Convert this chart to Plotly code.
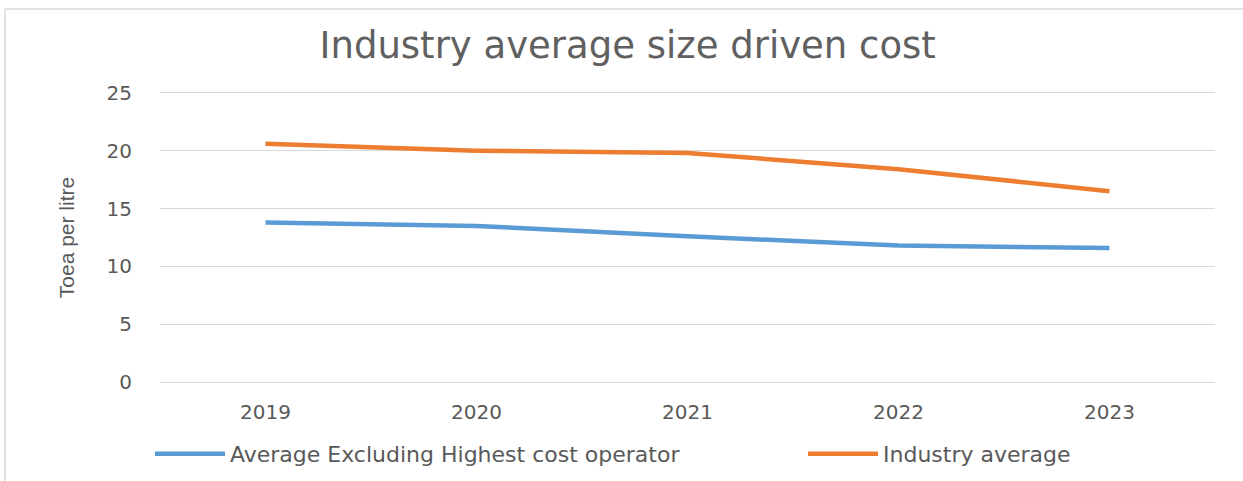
import plotly.graph_objects as go

years = ["2019", "2020", "2021", "2022", "2023"]
avg_excl_highest = [13.8, 13.5, 12.6, 11.8, 11.6]
industry_avg = [20.6, 20.0, 19.8, 18.4, 16.5]
y_ticks = [0, 5, 10, 15, 20, 25]

grey = "#595959"
L, R, T, B = 160, 28, 91, 97
W, H = 1243, 481
PW, PH = W - L - R, H - T - B


def px_x(p):
    return (p - L) / PW


def px_y(p):
    return (H - B - p) / PH


fig = go.Figure()
fig.add_trace(go.Scatter(
    x=years, y=avg_excl_highest, mode="lines",
    name="Average Excluding Highest cost operator",
    line=dict(color="#5B9BD5", width=4.5),
    legend="legend",
))
fig.add_trace(go.Scatter(
    x=years, y=industry_avg, mode="lines",
    name="Industry average",
    line=dict(color="#ED7D31", width=4.5),
    legend="legend2",
))

legend_common = dict(orientation="h", xanchor="left", yanchor="middle", itemwidth=70,
                     bgcolor="rgba(0,0,0,0)",
                     font=dict(family="DejaVu Sans", size=22, color=grey))

fig.update_layout(
    width=W, height=H,
    showlegend=True,
    paper_bgcolor="white", plot_bgcolor="white",
    margin=dict(l=L, r=R, t=T, b=B, autoexpand=False),
    title=dict(text="Industry average size driven cost", x=0.505, xanchor="center",
               y=1 - 45 / H, yanchor="middle",
               font=dict(family="DejaVu Sans", size=37, color="#606060")),
    xaxis=dict(type="category", range=[-0.5, 4.5], showgrid=False, zeroline=False,
               showline=False, ticks="", ticklabelstandoff=14,
               tickfont=dict(family="DejaVu Sans", size=20, color=grey)),
    yaxis=dict(range=[-0.15, 25.15], tickvals=y_ticks, showgrid=True, gridcolor="#D9D9D9",
               gridwidth=1, zeroline=False, showline=False, ticks="",
               ticklabelstandoff=27,
               tickfont=dict(family="DejaVu Sans", size=20, color=grey),
               title=dict(text="Toea per litre", standoff=26,
                          font=dict(family="Liberation Sans Narrow, Liberation Sans, Arial", size=21, color=grey))),
    legend=dict(x=px_x(150), y=px_y(454), visible=True, **legend_common),
    legend2=dict(x=px_x(803), y=px_y(454), visible=True, **legend_common),
    shapes=[
        dict(type="line", xref="paper", yref="paper", x0=px_x(5), x1=px_x(W), y0=px_y(9), y1=px_y(9),
             line=dict(color="#D9D9D9", width=1.5)),
        dict(type="line", xref="paper", yref="paper", x0=px_x(5), x1=px_x(5), y0=px_y(9), y1=px_y(H),
             line=dict(color="#D9D9D9", width=1.5)),
    ],
)

fig.write_html("out.html", config={"displayModeBar": False},
               post_script="document.body.style.margin='0';")
